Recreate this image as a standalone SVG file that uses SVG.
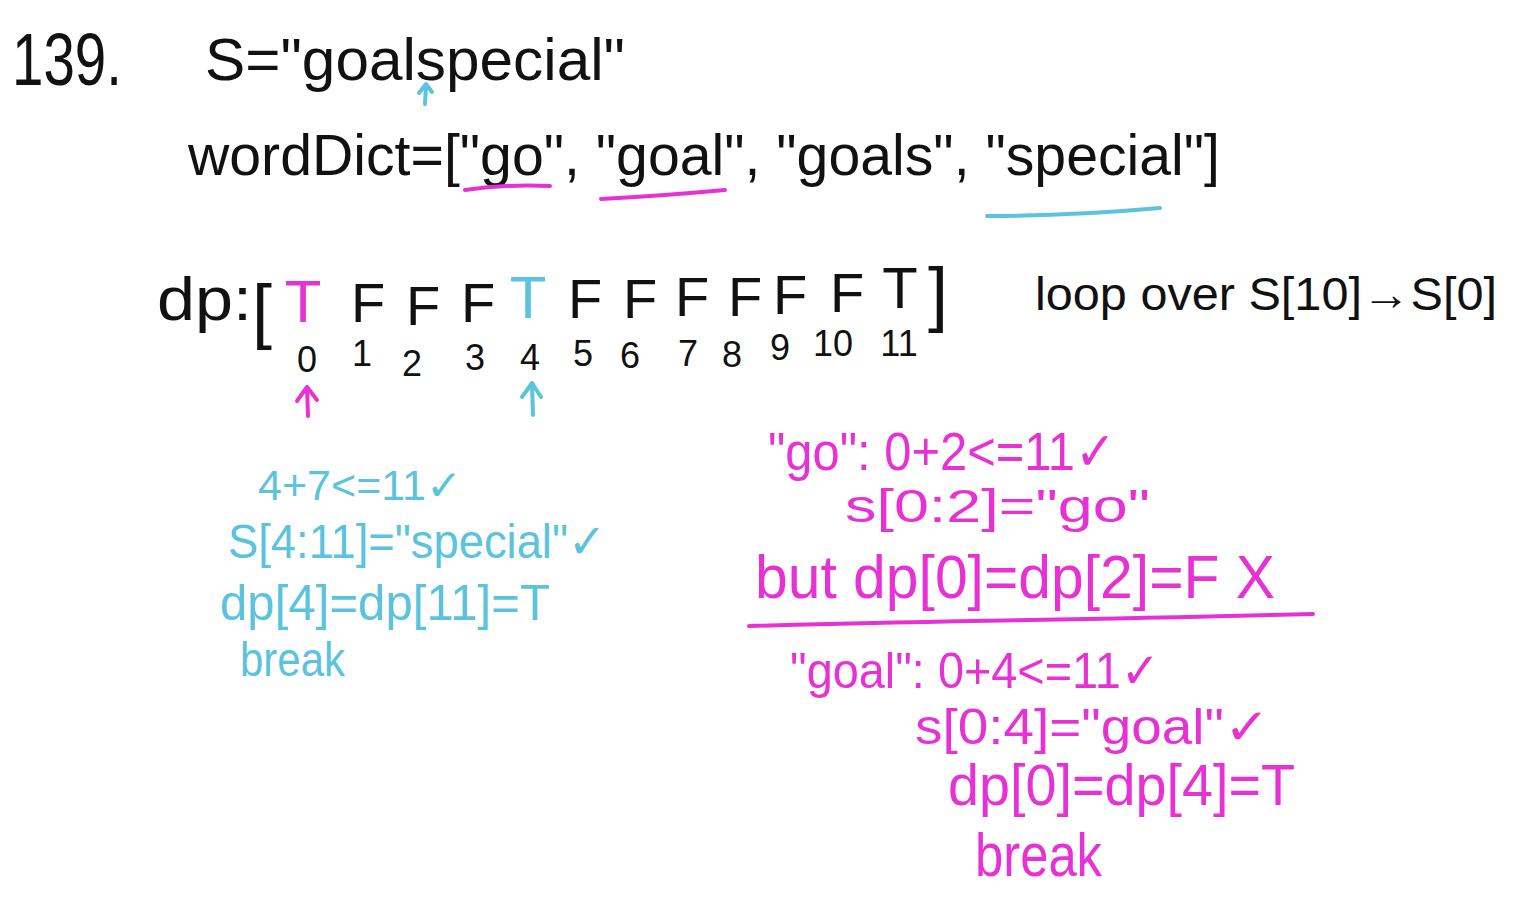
<svg xmlns="http://www.w3.org/2000/svg" width="1520" height="904" viewBox="0 0 1520 904">
<style>
text{font-family:"Liberation Sans","DejaVu Sans",sans-serif;}
.k{fill:#111}
.m{fill:#e632d4}
.c{fill:#5bc3dd}
.ln{fill:none;stroke-linecap:round;stroke-linejoin:round}
.ms{stroke:#e632d4}
.cs{stroke:#5bc3dd}
</style>
<rect width="1520" height="904" fill="#ffffff"/>
<g id="header">
<text class="k" x="12" y="85" font-size="74" textLength="110" lengthAdjust="spacingAndGlyphs">139.</text>
<text class="k" x="205" y="80" font-size="60" textLength="420" lengthAdjust="spacingAndGlyphs">S="goalspecial"</text>
<path class="ln cs" stroke-width="4" d="M425 104 L426 86 M419 93 L426 84 L432 92"/>
<text class="k" x="188" y="175" font-size="58" textLength="1032" lengthAdjust="spacingAndGlyphs">wordDict=["go", "goal", "goals", "special"]</text>
<path class="ln ms" stroke-width="4" d="M465 190 Q505 184 550 186"/>
<path class="ln ms" stroke-width="4" d="M601 199 Q660 196 725 190"/>
<path class="ln cs" stroke-width="4" d="M987 216 Q1070 216 1160 208"/>
</g>
<g id="dp-array">
<text class="k" x="157" y="320" font-size="62" textLength="95" lengthAdjust="spacingAndGlyphs">dp:</text>
<text class="k" x="252" y="335" font-size="72">[</text>
<text class="m" x="303" y="322" font-size="60" text-anchor="middle">T</text>
<text class="k" x="368" y="322" font-size="56" text-anchor="middle">F</text>
<text class="k" x="423" y="325" font-size="56" text-anchor="middle">F</text>
<text class="k" x="478" y="322" font-size="56" text-anchor="middle">F</text>
<text class="c" x="528" y="318" font-size="60" text-anchor="middle">T</text>
<text class="k" x="585" y="318" font-size="56" text-anchor="middle">F</text>
<text class="k" x="640" y="318" font-size="56" text-anchor="middle">F</text>
<text class="k" x="692" y="316" font-size="56" text-anchor="middle">F</text>
<text class="k" x="745" y="316" font-size="56" text-anchor="middle">F</text>
<text class="k" x="790" y="314" font-size="56" text-anchor="middle">F</text>
<text class="k" x="847" y="312" font-size="56" text-anchor="middle">F</text>
<text class="k" x="900" y="308" font-size="58" text-anchor="middle">T</text>
<text class="k" x="928" y="318" font-size="72">]</text>
<g id="indices" font-size="36">
<text class="k" x="307" y="372" text-anchor="middle">0</text>
<text class="k" x="362" y="366" text-anchor="middle">1</text>
<text class="k" x="412" y="376" text-anchor="middle">2</text>
<text class="k" x="475" y="370" text-anchor="middle">3</text>
<text class="k" x="530" y="370" text-anchor="middle">4</text>
<text class="k" x="583" y="366" text-anchor="middle">5</text>
<text class="k" x="630" y="368" text-anchor="middle">6</text>
<text class="k" x="688" y="366" text-anchor="middle">7</text>
<text class="k" x="732" y="367" text-anchor="middle">8</text>
<text class="k" x="780" y="360" text-anchor="middle">9</text>
<text class="k" x="833" y="356" text-anchor="middle">10</text>
<text class="k" x="899" y="356" text-anchor="middle">11</text>
</g>
<path class="ln ms" stroke-width="4" d="M308 416 L307 387 M297 401 L307 387 L317 400"/>
<path class="ln cs" stroke-width="4" d="M533 415 L532 384 M522 397 L532 383 L541 397"/>
<text class="k" x="1035" y="310" font-size="46" textLength="462" lengthAdjust="spacingAndGlyphs">loop over S[10]→S[0]</text>
</g>
<g id="cyan-notes" class="c">
<text x="258" y="500" font-size="42" textLength="204" lengthAdjust="spacingAndGlyphs">4+7&lt;=11✓</text>
<text x="228" y="558" font-size="48" textLength="378" lengthAdjust="spacingAndGlyphs">S[4:11]="special"✓</text>
<text x="220" y="620" font-size="50" textLength="330" lengthAdjust="spacingAndGlyphs">dp[4]=dp[11]=T</text>
<text x="240" y="676" font-size="48" textLength="105" lengthAdjust="spacingAndGlyphs">break</text>
</g>
<g id="magenta-notes" class="m">
<text x="768" y="470" font-size="54" textLength="348" lengthAdjust="spacingAndGlyphs">"go": 0+2&lt;=11✓</text>
<text x="845" y="522" font-size="46" textLength="305" lengthAdjust="spacingAndGlyphs">s[0:2]="go"</text>
<text x="755" y="598" font-size="62" textLength="520" lengthAdjust="spacingAndGlyphs">but dp[0]=dp[2]=F X</text>
<path class="ln ms" stroke-width="4" d="M749 626 Q900 622 1030 620 T1313 614"/>
<text x="790" y="688" font-size="50" textLength="370" lengthAdjust="spacingAndGlyphs">"goal": 0+4&lt;=11✓</text>
<text x="915" y="744" font-size="50" textLength="355" lengthAdjust="spacingAndGlyphs">s[0:4]="goal"✓</text>
<text x="948" y="805" font-size="58" textLength="347" lengthAdjust="spacingAndGlyphs">dp[0]=dp[4]=T</text>
<text x="975" y="876" font-size="62" textLength="127" lengthAdjust="spacingAndGlyphs">break</text>
</g>
</svg>
